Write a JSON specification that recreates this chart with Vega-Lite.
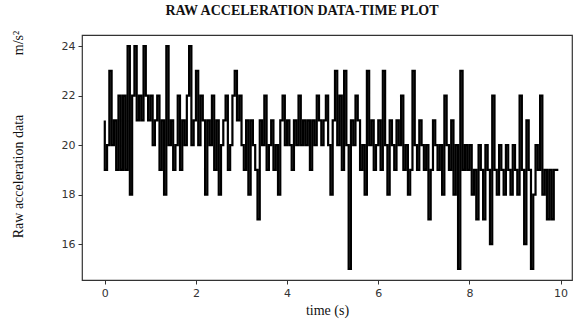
{
  "$schema": "https://vega.github.io/schema/vega-lite/v6.json",
  "autosize": "none",
  "width": 490,
  "height": 245,
  "padding": {"left": 82, "top": 35, "right": 4, "bottom": 46},
  "background": "white",
  "title": {"text": "RAW ACCELERATION DATA-TIME PLOT", "font": "Liberation Serif", "fontSize": 14, "fontWeight": "bold", "color": "#111", "anchor": "middle", "frame": "group", "dx": -25, "offset": 1, "baseline": "alphabetic"},
  "config": {"view": {"stroke": "#333", "strokeWidth": 1.2}},
  "data": {"values": [
    {"t": 0.00, "a": 21},{"t": 0.05, "a": 19},{"t": 0.10, "a": 20},{"t": 0.15, "a": 23},{"t": 0.20, "a": 20},{"t": 0.25, "a": 21},{"t": 0.30, "a": 19},{"t": 0.35, "a": 22},{"t": 0.40, "a": 19},{"t": 0.45, "a": 22},
    {"t": 0.50, "a": 19},{"t": 0.55, "a": 24},{"t": 0.60, "a": 18},{"t": 0.65, "a": 22},{"t": 0.70, "a": 24},{"t": 0.75, "a": 21},{"t": 0.80, "a": 22},{"t": 0.85, "a": 21},{"t": 0.90, "a": 24},{"t": 0.95, "a": 22},
    {"t": 1.00, "a": 21},{"t": 1.05, "a": 22},{"t": 1.10, "a": 20},{"t": 1.15, "a": 21},{"t": 1.20, "a": 22},{"t": 1.25, "a": 19},{"t": 1.30, "a": 21},{"t": 1.35, "a": 18},{"t": 1.40, "a": 24},{"t": 1.45, "a": 20},
    {"t": 1.50, "a": 21},{"t": 1.55, "a": 19},{"t": 1.60, "a": 20},{"t": 1.65, "a": 22},{"t": 1.70, "a": 19},{"t": 1.75, "a": 21},{"t": 1.80, "a": 20},{"t": 1.85, "a": 22},{"t": 1.90, "a": 24},{"t": 1.95, "a": 20},
    {"t": 2.00, "a": 21},{"t": 2.05, "a": 23},{"t": 2.10, "a": 20},{"t": 2.15, "a": 22},{"t": 2.20, "a": 21},{"t": 2.25, "a": 18},{"t": 2.30, "a": 21},{"t": 2.35, "a": 20},{"t": 2.40, "a": 22},{"t": 2.45, "a": 19},
    {"t": 2.50, "a": 21},{"t": 2.55, "a": 18},{"t": 2.60, "a": 20},{"t": 2.65, "a": 21},{"t": 2.70, "a": 22},{"t": 2.75, "a": 19},{"t": 2.80, "a": 20},{"t": 2.85, "a": 22},{"t": 2.90, "a": 23},{"t": 2.95, "a": 21},
    {"t": 3.00, "a": 22},{"t": 3.05, "a": 20},{"t": 3.10, "a": 19},{"t": 3.15, "a": 21},{"t": 3.20, "a": 18},{"t": 3.25, "a": 21},{"t": 3.30, "a": 20},{"t": 3.35, "a": 19},{"t": 3.40, "a": 17},{"t": 3.45, "a": 21},
    {"t": 3.50, "a": 20},{"t": 3.55, "a": 22},{"t": 3.60, "a": 19},{"t": 3.65, "a": 20},{"t": 3.70, "a": 21},{"t": 3.75, "a": 19},{"t": 3.80, "a": 20},{"t": 3.85, "a": 18},{"t": 3.90, "a": 21},{"t": 3.95, "a": 22},
    {"t": 4.00, "a": 20},{"t": 4.05, "a": 21},{"t": 4.10, "a": 20},{"t": 4.15, "a": 19},{"t": 4.20, "a": 21},{"t": 4.25, "a": 20},{"t": 4.30, "a": 22},{"t": 4.35, "a": 20},{"t": 4.40, "a": 21},{"t": 4.45, "a": 20},
    {"t": 4.50, "a": 21},{"t": 4.55, "a": 19},{"t": 4.60, "a": 21},{"t": 4.65, "a": 20},{"t": 4.70, "a": 22},{"t": 4.75, "a": 21},{"t": 4.80, "a": 20},{"t": 4.85, "a": 21},{"t": 4.90, "a": 22},{"t": 4.95, "a": 20},
    {"t": 5.00, "a": 18},{"t": 5.05, "a": 21},{"t": 5.10, "a": 23},{"t": 5.15, "a": 20},{"t": 5.20, "a": 22},{"t": 5.25, "a": 19},{"t": 5.30, "a": 23},{"t": 5.35, "a": 20},{"t": 5.40, "a": 15},{"t": 5.45, "a": 21},
    {"t": 5.50, "a": 20},{"t": 5.55, "a": 22},{"t": 5.60, "a": 21},{"t": 5.65, "a": 19},{"t": 5.70, "a": 20},{"t": 5.75, "a": 18},{"t": 5.80, "a": 23},{"t": 5.85, "a": 20},{"t": 5.90, "a": 21},{"t": 5.95, "a": 19},
    {"t": 6.00, "a": 20},{"t": 6.05, "a": 21},{"t": 6.10, "a": 19},{"t": 6.15, "a": 23},{"t": 6.20, "a": 20},{"t": 6.25, "a": 18},{"t": 6.30, "a": 21},{"t": 6.35, "a": 20},{"t": 6.40, "a": 19},{"t": 6.45, "a": 21},
    {"t": 6.50, "a": 20},{"t": 6.55, "a": 22},{"t": 6.60, "a": 19},{"t": 6.65, "a": 20},{"t": 6.70, "a": 18},{"t": 6.75, "a": 19},{"t": 6.80, "a": 23},{"t": 6.85, "a": 20},{"t": 6.90, "a": 19},{"t": 6.95, "a": 21},
    {"t": 7.00, "a": 20},{"t": 7.05, "a": 19},{"t": 7.10, "a": 20},{"t": 7.15, "a": 17},{"t": 7.20, "a": 19},{"t": 7.25, "a": 21},{"t": 7.30, "a": 20},{"t": 7.35, "a": 19},{"t": 7.40, "a": 20},{"t": 7.45, "a": 18},
    {"t": 7.50, "a": 22},{"t": 7.55, "a": 20},{"t": 7.60, "a": 19},{"t": 7.65, "a": 21},{"t": 7.70, "a": 18},{"t": 7.75, "a": 20},{"t": 7.80, "a": 15},{"t": 7.85, "a": 23},{"t": 7.90, "a": 19},{"t": 7.95, "a": 20},
    {"t": 8.00, "a": 19},{"t": 8.05, "a": 20},{"t": 8.10, "a": 18},{"t": 8.15, "a": 19},{"t": 8.20, "a": 17},{"t": 8.25, "a": 20},{"t": 8.30, "a": 19},{"t": 8.35, "a": 17},{"t": 8.40, "a": 20},{"t": 8.45, "a": 19},
    {"t": 8.50, "a": 16},{"t": 8.55, "a": 22},{"t": 8.60, "a": 19},{"t": 8.65, "a": 18},{"t": 8.70, "a": 20},{"t": 8.75, "a": 19},{"t": 8.80, "a": 18},{"t": 8.85, "a": 20},{"t": 8.90, "a": 19},{"t": 8.95, "a": 18},
    {"t": 9.00, "a": 20},{"t": 9.05, "a": 19},{"t": 9.10, "a": 18},{"t": 9.15, "a": 22},{"t": 9.20, "a": 19},{"t": 9.25, "a": 16},{"t": 9.30, "a": 21},{"t": 9.35, "a": 19},{"t": 9.40, "a": 15},{"t": 9.45, "a": 18},
    {"t": 9.50, "a": 20},{"t": 9.55, "a": 19},{"t": 9.60, "a": 22},{"t": 9.65, "a": 18},{"t": 9.70, "a": 19},{"t": 9.75, "a": 17},{"t": 9.80, "a": 19},{"t": 9.85, "a": 17},{"t": 9.90, "a": 19},{"t": 9.95, "a": 19}
  ]},
  "mark": {"type": "line", "interpolate": "step-before", "color": "black", "strokeWidth": 2.2, "clip": true},
  "encoding": {
    "x": {"field": "t", "type": "quantitative", "scale": {"domain": [-0.5, 10.25], "nice": false, "zero": false},
      "axis": {"values": [0, 2, 4, 6, 8, 10], "grid": false, "domain": false, "tickColor": "#333", "tickSize": 4, "labelFont": "DejaVu Sans", "labelFontSize": 11, "labelColor": "#333", "labelPadding": 3,
        "title": "time (s)", "titleFont": "Liberation Serif", "titleFontSize": 14, "titleFontWeight": "normal", "titleColor": "#111", "titlePadding": 5}},
    "y": {"field": "a", "type": "quantitative", "scale": {"domain": [14.55, 24.45], "nice": false, "zero": false},
      "axis": {"values": [16, 18, 20, 22, 24], "grid": false, "domain": false, "tickColor": "#333", "tickSize": 4, "labelFont": "DejaVu Sans", "labelFontSize": 11, "labelColor": "#333", "labelPadding": 3,
        "title": "Raw acceleration data\u00a0\u00a0\u00a0\u00a0\u00a0\u00a0\u00a0\u00a0\u00a0\u00a0\u00a0\u00a0\u00a0\u00a0\u00a0\u00a0\u00a0m/s²", "titleFont": "Liberation Serif", "titleFontSize": 14, "titleFontWeight": "normal", "titleColor": "#111", "titleAnchor": "middle", "titleX": -60, "titleY": 99, "titleAngle": -90, "titleBaseline": "alphabetic"}}
  }
}
